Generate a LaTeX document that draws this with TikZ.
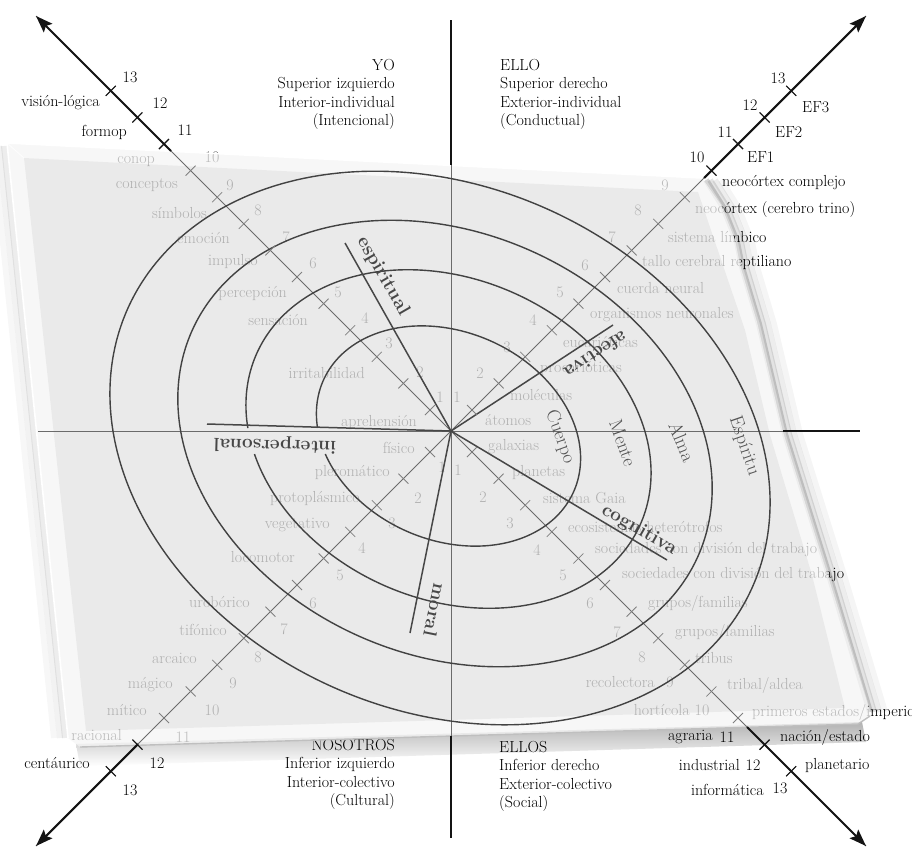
\documentclass[tikz,border=0pt]{standalone}
\usepackage{fontspec}
\usepackage{tikz}
\usetikzlibrary{arrows.meta}

\newcommand{\lblfont}{\fontsize{16}{18.4}\selectfont}
\newcommand{\bigfont}{\fontsize{19}{21}\selectfont}

\begin{document}
\begin{tikzpicture}[
      x=1pt, y=-1pt,
      >={Stealth[length=17pt,width=12pt,inset=3pt]},
      lbl/.style={font=\lblfont, inner sep=0pt},
      num/.style={font=\lblfont, inner sep=0pt},
      head/.style={font=\lblfont, inner sep=0pt},
      axis_in/.style={black!58, line width=0.9pt},
      axis_out/.style={black!92, line width=2.1pt},
      tick_in/.style={black!50, line width=0.8pt},
      tick_out/.style={black!92, line width=1.1pt},
      ring/.style={black!74, line width=1.4pt},
      devline/.style={black!72, line width=1.5pt},
      devlbl/.style={font=\bigfont\bfseries, text=black!72, inner sep=0pt},
      ringlbl/.style={font=\bigfont, text=black!68, inner sep=0pt}
    ]
    \useasboundingbox (0,0) rectangle (912,852);
    \fill[white] (0,0) rectangle (912,852);

    % Centro, extremos de ejes y flechas
    \coordinate (O) at (451,431);
    \coordinate (vtop) at (451,20);
    \coordinate (vbot) at (451,838);
    \coordinate (hleft) at (38,431);
    \coordinate (hright) at (860,431);
    \coordinate (tipUL) at (36,16);
    \coordinate (tipUR) at (866,16);
    \coordinate (tipLL) at (36,846);
    \coordinate (tipLR) at (866,846);
    % donde los ejes salen de la bandeja
    \coordinate (eTop) at (451,165);
    \coordinate (eBot) at (451,736);
    \coordinate (eRight) at (783,431);
    \coordinate (eUL) at (171,151);
    \coordinate (eUR) at (704,178);
    \coordinate (eLL) at (138,744);
    \coordinate (eLR) at (747,727);

    % Sombras de la bandeja
    \shade[top color=black!30, bottom color=white] (76,744) -- (862,722) -- (866,742) -- (80,766) -- cycle;
    \foreach \s/\o in {2/0.16, 6/0.11, 11/0.07, 17/0.04}
      \draw[line width=6pt, black, opacity=\o, xshift=\s] (704,180) -- (721,207) -- (735,242) -- (740,267) -- (757,324) -- (783,434) -- (827,575) -- (868,712);
    \foreach \s/\o in {3/0.07, 8/0.05, 14/0.03}
      \draw[line width=6pt, black, opacity=\o, xshift=-\s] (7,146) -- (68,738);

    % Cuadrantes
    \node[head, anchor=north east, align=right] (yo) at (395,59) {YO\\Superior izquierdo\\Interior-individual\\(Intencional)};
    \node[head, anchor=north west, align=left] (ello) at (500,59) {ELLO\\Superior derecho\\Exterior-individual\\(Conductual)};
    \node[head, anchor=north east, align=right] (nosotros) at (395,739) {NOSOTROS\\Inferior izquierdo\\Interior-colectivo\\(Cultural)};
    \node[head, anchor=north west, align=left] (ellos) at (499,741) {ELLOS\\Inferior derecho\\Exterior-colectivo\\(Social)};

    % Numeros de los niveles
    \foreach \x/\y [count=\k] in {440/397, 420/372, 389/343, 365/318, 338/292, 313/263, 286/237, 258/210, 230/185, 212/157, 185/130, 160/103, 130/77}
      \node[num] (ul\k) at (\x,\y) {\k};
    \foreach \x/\y [count=\k] in {457/397, 480/373, 507/347, 533/320, 560/292, 585/265, 612/237, 638/210, 665/185, 697/157, 725/132, 750/105, 778/78}
      \node[num] (ur\k) at (\x,\y) {\k};
    \foreach \x/\y [count=\k] in {442/467, 418/498, 392/523, 362/548, 340/575, 313/603, 284/629, 258/657, 233/683, 212/710, 183/737, 157/763, 130/790}
      \node[num] (ll\k) at (\x,\y) {\k};
    \foreach \x/\y [count=\k] in {458/470, 483/497, 510/523, 537/550, 563/575, 590/603, 617/632, 642/657, 670/682, 702/710, 727/737, 753/765, 780/788}
      \node[num] (lr\k) at (\x,\y) {\k};

    % Superior izquierdo
    \node[lbl, anchor=east] (aprehension) at (417,422) {aprehensión};
    \node[lbl, anchor=east] (irritabilidad) at (365,373) {irritabilidad};
    \node[lbl, anchor=east] (sensacion) at (308,320) {sensación};
    \node[lbl, anchor=east] (percepcion) at (287,293) {percepción};
    \node[lbl, anchor=east] (impulso) at (258,262) {impulso};
    \node[lbl, anchor=east] (emocion) at (230,238) {emoción};
    \node[lbl, anchor=east] (simbolos) at (207,213) {símbolos};
    \node[lbl, anchor=east] (conceptos) at (178,185) {conceptos};
    \node[lbl, anchor=east] (conop) at (155,162) {conop};
    \node[lbl, anchor=east] (formop) at (127,132) {formop};
    \node[lbl, anchor=east] (vision) at (100,103) {visión-lógica};

    % Superior derecho
    \node[lbl, anchor=west] (atomos) at (485,420) {átomos};
    \node[lbl, anchor=west] (moleculas) at (510,395) {moléculas};
    \node[lbl, anchor=west] (procar) at (540,368) {procarióticas};
    \node[lbl, anchor=west] (eucar) at (563,342) {eucarióticas};
    \node[lbl, anchor=west] (organismos) at (590,315) {organismos neuronales};
    \node[lbl, anchor=west] (cuerda) at (617,288) {cuerda neural};
    \node[lbl, anchor=west] (tallo) at (642,263) {tallo cerebral reptiliano};
    \node[lbl, anchor=west] (limbico) at (668,237) {sistema límbico};
    \node[lbl, anchor=west] (trino) at (695,210) {neocórtex (cerebro trino)};
    \node[lbl, anchor=west] (complejo) at (722,183) {neocórtex complejo};
    \node[lbl, anchor=west] (ef1) at (747,157) {EF1};
    \node[lbl, anchor=west] (ef2) at (775,132) {EF2};
    \node[lbl, anchor=west] (ef3) at (802,107) {EF3};

    % Inferior izquierdo
    \node[lbl, anchor=east] (fisico) at (415,448) {físico};
    \node[lbl, anchor=east] (pleromatico) at (390,472) {pleromático};
    \node[lbl, anchor=east] (protoplasmico) at (360,498) {protoplásmico};
    \node[lbl, anchor=east] (vegetativo) at (330,525) {vegetativo};
    \node[lbl, anchor=east] (locomotor) at (295,557) {locomotor};
    \node[lbl, anchor=east] (uroborico) at (250,602) {urobórico};
    \node[lbl, anchor=east] (tifonico) at (227,630) {tifónico};
    \node[lbl, anchor=east] (arcaico) at (197,658) {arcaico};
    \node[lbl, anchor=east] (magico) at (173,685) {mágico};
    \node[lbl, anchor=east] (mitico) at (147,710) {mítico};
    \node[lbl, anchor=east] (racional) at (122,735) {racional};
    \node[lbl, anchor=east] (centaurico) at (90,763) {centáurico};

    % Inferior derecho
    \node[lbl, anchor=west] (galaxias) at (488,447) {galaxias};
    \node[lbl, anchor=west] (planetas) at (512,472) {planetas};
    \node[lbl, anchor=west] (gaia) at (543,498) {sistema Gaia};
    \node[lbl, anchor=west] (ecosist) at (568,527) {ecosistemas heterótrofos};
    \node[lbl, anchor=west] (socA) at (595,550) {sociedades con división del trabajo};
    \node[lbl, anchor=west] (socB) at (622,575) {sociedades con división del trabajo};
    \node[lbl, anchor=west] (gruposA) at (648,603) {grupos/familias};
    \node[lbl, anchor=west] (gruposB) at (675,632) {grupos/familias};
    \node[lbl, anchor=west] (tribus) at (695,658) {tribus};
    \node[lbl, anchor=west] (aldea) at (727,685) {tribal/aldea};
    \node[lbl, anchor=west] (imperios) at (752,712) {primeros estados/imperios};
    \node[lbl, anchor=west] (nacion) at (780,737) {nación/estado};
    \node[lbl, anchor=west] (planetario) at (805,765) {planetario};
    \node[lbl, anchor=east] (recolectora) at (655,682) {recolectora};
    \node[lbl, anchor=east] (horticola) at (690,710) {hortícola};
    \node[lbl, anchor=east] (agraria) at (713,737) {agraria};
    \node[lbl, anchor=east] (industrial) at (740,765) {industrial};
    \node[lbl, anchor=east] (informatica) at (764,790) {informática};

    % Bandeja translucida
    \path[save path=\bandeja] (7,143) -- (702,178) -- (721,205) -- (735,240) -- (740,265) -- (757,322) -- (783,432) -- (827,573) -- (868,705) -- (870,716) -- (858,724) -- (80,747) -- (68,738) -- cycle;
    \path[use path=\bandeja, fill=gray!8, opacity=0.76];
    \fill[black, opacity=0.05] (24,158) -- (698,192) -- (745,330) -- (770,435) -- (812,575) -- (845,708) -- (86,731) -- cycle;
    \draw[white, line width=1.6pt] (68,738) -- (7,143) -- (702,178);
    \draw[white, line width=0.8pt, opacity=0.8] (7,143) -- (24,158);
    \draw[black!25, line width=1.4pt] (80,747) -- (858,724) -- (870,716);

    % Ejes dentro de la bandeja
    \draw[axis_in] (vtop) -- (vbot);
    \draw[axis_in] (hleft) -- (hright);
    \draw[axis_in] (O) -- (tipUL);
    \draw[axis_in] (O) -- (tipUR);
    \draw[axis_in] (O) -- (tipLL);
    \draw[axis_in] (O) -- (tipLR);

    % Anillos (elipses giradas 24 grados; los dos interiores cortados a la izquierda)
    \foreach \cx/\cy/\ra/\rb/\ts/\te in {448.5/436/137/104/153.8/500.2, 448.5/439/210/160/153.4/504.6, 445/443.5/277/211/0/360, 440/448/342/262/0/360}
      \draw[ring] plot[domain=\ts:\te, samples=180, smooth, variable=\t]
        ({\cx+\ra*cos(\t)*0.9135-\rb*sin(\t)*0.4067}, {\cy+\ra*cos(\t)*0.4067+\rb*sin(\t)*0.9135});

    % Lineas de desarrollo
    \coordinate (espE) at (345,243);
    \coordinate (intE) at (207,424);
    \coordinate (morE) at (410,633);
    \coordinate (afeE) at (613,325);
    \coordinate (cogE) at (667,560);
    \draw[devline] (O) -- (espE);
    \draw[devline] (O) -- (intE);
    \draw[devline] (O) -- (morE);
    \draw[devline] (O) -- (afeE);
    \draw[devline] (O) -- (cogE);
    \node[devlbl, rotate=-60] (espiritual) at (383,276) {espiritual};
    \node[devlbl, rotate=178.4] (interpersonal) at (275,445) {interpersonal};
    \node[devlbl, rotate=-101.5] (moral) at (435,610) {moral};
    \node[devlbl, rotate=213] (afectiva) at (596,355) {afectiva};
    \node[devlbl, rotate=-30] (cognitiva) at (639,530) {cognitiva};

    % Nombres de los anillos
    \node[ringlbl, rotate=-70] (cuerpo) at (560,437) {Cuerpo};
    \node[ringlbl, rotate=-70] (mente) at (623,443) {Mente};
    \node[ringlbl, rotate=-68] (alma) at (682,442) {Alma};
    \node[ringlbl, rotate=-71] (espiritu) at (744,446) {Espíritu};

    % Tacas
    \foreach \k in {1,...,13}{
      \pgfmathsetmacro{\d}{21+26.6*(\k-1)}
      \draw[tick_in] ({451-\d-5},{431-\d+5}) -- ({451-\d+5},{431-\d-5});
      \draw[tick_in] ({451+\d-5},{431-\d-5}) -- ({451+\d+5},{431-\d+5});
      \draw[tick_in] ({451-\d-5},{431+\d-5}) -- ({451-\d+5},{431+\d+5});
      \draw[tick_in] ({451+\d-5},{431+\d+5}) -- ({451+\d+5},{431+\d-5});
    }

    % Ejes fuera de la bandeja
    \draw[axis_out] (vtop) -- (eTop);
    \draw[axis_out] (eBot) -- (vbot);
    \draw[axis_out] (eRight) -- (hright);
    \draw[axis_out, ->] (eUL) -- (tipUL);
    \draw[axis_out, ->] (eUR) -- (tipUR);
    \draw[axis_out, ->] (eLL) -- (tipLL);
    \draw[axis_out, ->] (eLR) -- (tipLR);
    \foreach \k in {11,12,13}{
      \pgfmathsetmacro{\d}{21+26.6*(\k-1)}
      \draw[tick_out] ({451-\d-5},{431-\d+5}) -- ({451-\d+5},{431-\d-5});
    }
    \foreach \k in {10,...,13}{
      \pgfmathsetmacro{\d}{21+26.6*(\k-1)}
      \draw[tick_out] ({451+\d-5},{431-\d-5}) -- ({451+\d+5},{431-\d+5});
    }
    \foreach \k in {12,13}{
      \pgfmathsetmacro{\d}{21+26.6*(\k-1)}
      \draw[tick_out] ({451-\d-5},{431+\d-5}) -- ({451-\d+5},{431+\d+5});
      \draw[tick_out] ({451+\d-5},{431+\d+5}) -- ({451+\d+5},{431+\d-5});
    }
  \end{tikzpicture}
\end{document}
